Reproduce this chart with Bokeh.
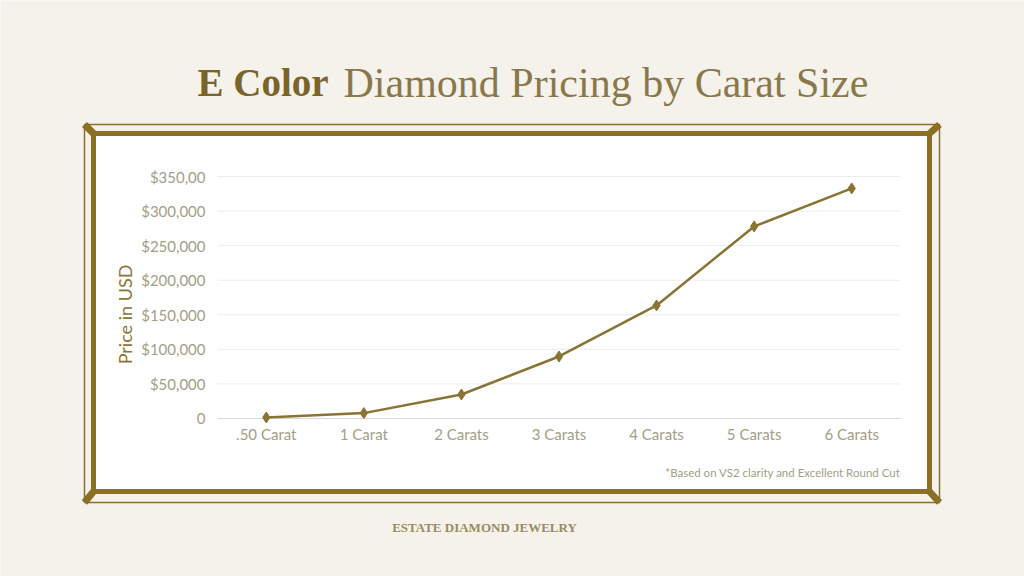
from math import pi

from bokeh.plotting import figure
from bokeh.models import ColumnDataSource, Range1d
from bokeh.core.properties import value
from bokeh.embed import file_html
from bokeh.resources import INLINE

# data
carats = [".50 Carat", "1 Carat", "2 Carats", "3 Carats", "4 Carats", "5 Carats", "6 Carats"]
prices = [1500, 7800, 34700, 89700, 163500, 277800, 332800]
y_ticks = [0, 50000, 100000, 150000, 200000, 250000, 300000, 350000]
y_tick_labels = ["0", "$50,000", "$100,000", "$150,000", "$200,000", "$250,000", "$300,000", "$350,00"]

CREAM = "#f5f2ec"
GOLD = "#8b6f24"
LINE = "#8a7433"
TICK = "#a39e86"
SANS = value("Lato")
SERIF = value("Liberation Serif")

W, H = 1024, 576
# the chart area sits at x 217..900, y 176..418 of the picture
FL, FR, FT, FB = 217, 900, 176, 418
YMAX = 350000


# picture pixel -> data units, so the whole canvas is one frame
def dx(x):
    return (x - FL) * len(carats) / (FR - FL)


def dy(y):
    return (FB - y) * YMAX / (FB - FT)


xpos = [i + 0.5 for i in range(len(carats))]
source = ColumnDataSource(data=dict(x=xpos, carat=carats, price=prices))

p = figure(width=W, height=H, x_range=Range1d(dx(0), dx(W)), y_range=Range1d(dy(H), dy(0)),
           x_axis_location=None, y_axis_location=None, min_border=0,
           output_backend="svg", toolbar_location=None,
           background_fill_color=CREAM, border_fill_color=CREAM, outline_line_color=None)
p.grid.visible = False

# decorative double frame
p.quad(left=dx(93), right=dx(929), top=dy(133), bottom=dy(491), fill_color="white", line_color=None)
p.quad(left=dx(93), right=dx(929), top=dy(133), bottom=dy(491), fill_color=None,
       line_color=GOLD, line_width=5)
p.quad(left=dx(84), right=dx(939), top=dy(124), bottom=dy(502), fill_color=None,
       line_color=GOLD, line_width=1.5)
p.segment(x0=[dx(84), dx(939), dx(84), dx(939)], y0=[dy(124), dy(124), dy(502), dy(502)],
          x1=[dx(93), dx(929), dx(93), dx(929)], y1=[dy(133), dy(133), dy(491), dy(491)],
          line_color=GOLD, line_width=7)

# value grid and baseline
p.segment(x0=0, x1=len(carats), y0=y_ticks[1:], y1=y_ticks[1:], line_color="#ececec", line_width=1)
p.segment(x0=0, x1=len(carats), y0=0, y1=0, line_color="#d9d9d9", line_width=1)

# tick labels
p.text(x=0, y=y_ticks, text=y_tick_labels, x_offset=-12, text_align="right", text_baseline="middle",
       text_font=SANS, text_font_size="15px", text_color=TICK)
p.text(x="x", y=0, text="carat", source=source, y_offset=15, text_align="center", text_baseline="middle",
       text_font=SANS, text_font_size="15px", text_color=TICK)

p.line(x="x", y="price", source=source, line_color=LINE, line_width=2.5)
p.scatter(x="x", y="price", source=source, marker="diamond", size=11,
          fill_color=LINE, line_color=LINE)

p.text(x=[dx(124)], y=[dy(314)], text=["Price in USD"], angle=pi / 2,
       text_align="center", text_baseline="middle",
       text_font=SANS, text_font_size="18px", text_color="#8a7536")

p.text(x=[dx(197)], y=[dy(82)], text=["E Color"], text_align="left", text_baseline="middle",
       text_font=SERIF, text_font_style="bold", text_font_size="39px", text_color="#7a6428")
p.text(x=[dx(343)], y=[dy(82)], text=["Diamond Pricing by Carat Size"], text_align="left",
       text_baseline="middle", text_font=SERIF, text_font_size="42px", text_color="#8a784a")

p.text(x=[dx(900)], y=[dy(472)], text=["*Based on VS2 clarity and Excellent Round Cut"],
       text_align="right", text_baseline="middle",
       text_font=SANS, text_font_size="11.5px", text_color=TICK)

p.text(x=[dx(484)], y=[dy(527)], text=["ESTATE DIAMOND JEWELRY"], text_align="center",
       text_baseline="middle", text_font=SERIF, text_font_style="bold",
       text_font_size="13px", text_color="#9a8a60")

open("out.html", "w").write(file_html(p, INLINE))
